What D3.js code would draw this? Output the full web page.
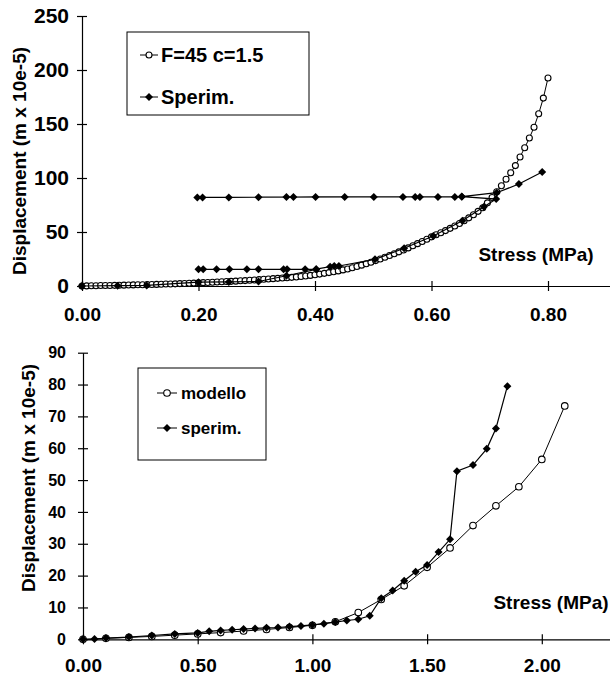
<!DOCTYPE html>
<html>
<head>
<meta charset="utf-8">
<script src="https://cdn.jsdelivr.net/npm/d3@7"></script>
<style>
  body { margin: 0; background: #fff; }
  svg { display: block; font-family: "Liberation Sans", Arial, sans-serif; font-weight: bold; }
</style>
</head>
<body>
<div id="chart"></div>
<script>
// ---- top panel: model curve F=45 c=1.5 ----
const topModelStress = [
  0, 0.008, 0.016, 0.024, 0.032, 0.04, 0.048, 0.056, 0.064, 0.072,
  0.08, 0.088, 0.096, 0.104, 0.112, 0.12, 0.128, 0.136, 0.144, 0.152,
  0.16, 0.168, 0.176, 0.184, 0.192, 0.2, 0.208, 0.216, 0.224, 0.232,
  0.24, 0.248, 0.256, 0.264, 0.272, 0.28, 0.288, 0.296, 0.304, 0.312,
  0.32, 0.328, 0.336, 0.344, 0.352, 0.36, 0.368, 0.376, 0.384, 0.392,
  0.4, 0.408, 0.416, 0.424, 0.432, 0.44, 0.448, 0.456, 0.464, 0.472,
  0.48, 0.488, 0.496, 0.504, 0.512, 0.52, 0.528, 0.536, 0.544, 0.552,
  0.56, 0.568, 0.576, 0.584, 0.592, 0.6, 0.608, 0.616, 0.624, 0.632,
  0.64, 0.648, 0.656, 0.664, 0.672, 0.68, 0.688, 0.696, 0.704, 0.712,
  0.72, 0.728, 0.736, 0.744, 0.752, 0.76, 0.768, 0.776, 0.784, 0.792, 0.8
];
const topModelDisp = [
  0, 0.1, 0.2, 0.3, 0.4, 0.4, 0.5, 0.6, 0.7, 0.8,
  0.9, 1.0, 1.1, 1.2, 1.3, 1.4, 1.5, 1.6, 1.8, 1.9,
  2.0, 2.2, 2.3, 2.5, 2.7, 2.9, 3.1, 3.3, 3.5, 3.7,
  3.9, 4.1, 4.3, 4.5, 4.8, 5.0, 5.3, 5.6, 5.9, 6.2,
  6.5, 6.8, 7.1, 7.4, 7.7, 8.0, 8.4, 8.8, 9.3, 9.8,
  10.4, 11.0, 11.7, 12.4, 13.2, 14.0, 14.9, 15.8, 16.9, 18.0,
  19.3, 20.6, 22.0, 23.5, 25.0, 26.6, 28.2, 29.9, 31.6, 33.4,
  35.3, 37.2, 39.2, 41.2, 43.3, 45.5, 47.4, 49.3, 51.3, 53.4,
  55.6, 57.9, 60.4, 63.1, 66.0, 69.1, 72.5, 77.0, 82.0, 87.2,
  92.8, 98.8, 104.8, 111.5, 119.5, 128.0, 137.0, 147.0, 159.5, 174.0, 192.6
];

// ---- top panel: experimental (loading / unloading cycles) ----
const topSperimStress = [
  0, 0.061, 0.111, 0.200, 0.252, 0.303, 0.351, 0.402,
  0.383, 0.352, 0.346, 0.303, 0.283, 0.253, 0.231, 0.208, 0.200,
  0.402, 0.426, 0.433, 0.441, 0.503, 0.553, 0.603, 0.653, 0.690, 0.711,
  0.652, 0.640, 0.611, 0.580, 0.572, 0.551, 0.501, 0.451, 0.401, 0.363, 0.351, 0.303, 0.252, 0.207, 0.198,
  0.652, 0.712, 0.750, 0.790
];
const topSperimDisp = [
  0, 0.3, 0.5, 3.5, 3.8, 4.2, 9.5, 15.4,
  15.4, 15.4, 15.4, 15.4, 15.4, 15.4, 15.4, 15.4, 15.4,
  15.6, 17.9, 18.5, 18.5, 24.7, 34.9, 46.3, 60.5, 73.4, 80.5,
  82.7, 82.5, 82.5, 82.5, 82.5, 82.5, 82.5, 82.5, 82.5, 82.3, 82.3, 82.2, 82.0, 82.0, 82.0,
  82.8, 86.4, 94.4, 105.6
];

// ---- bottom panel ----
const botModelStress = [0, 0.1, 0.2, 0.3, 0.4, 0.5, 0.6, 0.7, 0.8, 0.9, 1.0,
  1.1, 1.2, 1.3, 1.4, 1.5, 1.6, 1.7, 1.8, 1.9, 2.0, 2.1];
const botModelDisp = [0, 0.3, 0.6, 0.9, 1.3, 1.7, 2.1, 2.6, 3.1, 3.7, 4.4,
  5.5, 8.4, 12.5, 16.8, 22.6, 28.7, 35.7, 41.9, 47.9, 56.5, 73.3];

const botSperimStress = [0, 0.05, 0.1, 0.2, 0.3, 0.4, 0.5, 0.55, 0.6, 0.65, 0.7,
  0.75, 0.8, 0.85, 0.9, 0.95, 1.0, 1.05, 1.1, 1.15, 1.2, 1.25, 1.3, 1.35, 1.4,
  1.45, 1.5, 1.55, 1.6, 1.63, 1.7, 1.76, 1.8, 1.85];
const botSperimDisp = [0, 0.1, 0.4, 0.7, 1.2, 1.7, 2.0, 2.5, 2.8, 3.0, 3.2,
  3.4, 3.6, 3.7, 4.0, 4.2, 4.5, 4.9, 5.4, 5.9, 6.3, 7.4, 12.9, 15.3, 18.4,
  21.2, 23.3, 27.4, 31.4, 52.8, 54.7, 59.8, 66.2, 79.5];

const topXTicks = [0, 0.2, 0.4, 0.6, 0.8];
const topYTicks = [0, 50, 100, 150, 200, 250];
const botXTicks = [0, 0.5, 1.0, 1.5, 2.0];
const botYTicks = [0, 10, 20, 30, 40, 50, 60, 70, 80, 90];

const zip = (xs, ys) => xs.map((x, i) => ({ x: x, y: ys[i] }));

const svg = d3.select('#chart')
  .append('svg')
  .attr('width', 610)
  .attr('height', 677);

const diamond = 'M0,-4L4,0L0,4L-4,0Z';

function drawPanel(cfg) {
  const x = d3.scaleLinear().domain(cfg.xDomain).range(cfg.xRange);
  const y = d3.scaleLinear().domain(cfg.yDomain).range(cfg.yRange);
  const g = svg.append('g');

  // x axis (ticks cross the line)
  const xAxis = g.append('g')
    .attr('transform', `translate(0,${y(0)})`)
    .call(d3.axisBottom(x).tickValues(cfg.xTicks).tickFormat(d3.format('.2f')).tickSizeOuter(0));
  xAxis.select('.domain').attr('stroke', '#000').attr('stroke-width', 1.2);
  xAxis.selectAll('.tick line').attr('y1', -5).attr('y2', 5).attr('stroke-width', 1.2);
  xAxis.selectAll('.tick text')
    .attr('y', cfg.xLabelDy)
    .attr('dy', 0)
    .style('font-size', '19px')
    .style('font-weight', 'bold')
    .attr('font-family', null)
    .attr('fill', '#000');

  // y axis
  const yAxis = g.append('g')
    .attr('transform', `translate(${x(0)},0)`)
    .call(d3.axisLeft(y).tickValues(cfg.yTicks).tickFormat(d3.format('d')).tickSizeOuter(0));
  yAxis.select('.domain').attr('stroke', '#000').attr('stroke-width', 1.2);
  yAxis.selectAll('.tick line').attr('x1', -5).attr('x2', 5).attr('stroke-width', 1.2);
  yAxis.selectAll('.tick text')
    .attr('x', cfg.yLabelDx)
    .style('font-size', cfg.yTickFont)
    .style('font-weight', 'bold')
    .attr('font-family', null)
    .attr('fill', '#000');

  // axis titles
  g.append('text')
    .attr('transform', `translate(${cfg.yTitle[0]},${cfg.yTitle[1]}) rotate(-90)`)
    .attr('text-anchor', 'middle')
    .style('font-size', '19px')
    .text('Displacement (m x 10e-5)');

  g.append('text')
    .attr('x', cfg.xTitle[0])
    .attr('y', cfg.xTitle[1])
    .attr('text-anchor', 'middle')
    .style('font-size', '19px')
    .text('Stress (MPa)');

  const line = d3.line().x(d => x(d.x)).y(d => y(d.y));

  // model series (open circles)
  g.append('path')
    .datum(cfg.model)
    .attr('d', line)
    .attr('fill', 'none')
    .attr('stroke', '#000')
    .attr('stroke-width', 1);

  g.selectAll('.model-pt')
    .data(cfg.model)
    .enter()
    .append('circle')
    .attr('class', 'model-pt')
    .attr('cx', d => x(d.x))
    .attr('cy', d => y(d.y))
    .attr('r', cfg.circleR)
    .attr('fill', '#fff')
    .attr('stroke', '#000')
    .attr('stroke-width', 1.1);

  // experimental series (filled diamonds)
  g.append('path')
    .datum(cfg.sperim)
    .attr('d', line)
    .attr('fill', 'none')
    .attr('stroke', '#000')
    .attr('stroke-width', 1.2);

  g.selectAll('.sperim-pt')
    .data(cfg.sperim)
    .enter()
    .append('path')
    .attr('class', 'sperim-pt')
    .attr('transform', d => `translate(${x(d.x)},${y(d.y)})`)
    .attr('d', diamond)
    .attr('fill', '#000');

  // legend
  const lg = cfg.legend;
  g.append('rect')
    .attr('x', lg.x).attr('y', lg.y)
    .attr('width', lg.w).attr('height', lg.h)
    .attr('fill', '#fff')
    .attr('stroke', '#000')
    .attr('stroke-width', 1);

  lg.rows.forEach((label, i) => {
    const cy = lg.rowY[i];
    g.append('line')
      .attr('x1', lg.lineX[0]).attr('x2', lg.lineX[1])
      .attr('y1', cy).attr('y2', cy)
      .attr('stroke', '#000').attr('stroke-width', 1);
    const mx = (lg.lineX[0] + lg.lineX[1]) / 2;
    if (i === 0) {
      g.append('circle')
        .attr('cx', mx).attr('cy', cy).attr('r', cfg.circleR)
        .attr('fill', '#fff').attr('stroke', '#000').attr('stroke-width', 1.1);
    } else {
      g.append('path')
        .attr('transform', `translate(${mx},${cy})`)
        .attr('d', diamond)
        .attr('fill', '#000');
    }
    g.append('text')
      .attr('x', lg.textX)
      .attr('y', cy)
      .attr('dy', '0.35em')
      .style('font-size', lg.font)
      .text(label);
  });
}

drawPanel({
  xDomain: [0, 1.0], xRange: [82, 664.5],
  yDomain: [0, 250], yRange: [286, 16],
  xTicks: topXTicks, yTicks: topYTicks,
  xLabelDy: 35, yLabelDx: -13, yTickFont: '21px',
  yTitle: [26, 161], xTitle: [536, 261],
  circleR: 3,
  model: zip(topModelStress, topModelDisp),
  sperim: zip(topSperimStress, topSperimDisp),
  legend: {
    x: 127, y: 32, w: 182, h: 83,
    rows: ['F=45 c=1.5', 'Sperim.'], rowY: [55, 97],
    lineX: [140, 158], textX: 161, font: '20px'
  }
});

drawPanel({
  xDomain: [0, 2.5], xRange: [83, 656.5],
  yDomain: [0, 90], yRange: [639.3, 352.7],
  xTicks: botXTicks, yTicks: botYTicks,
  xLabelDy: 33, yLabelDx: -17, yTickFont: '16px',
  yTitle: [35, 478], xTitle: [551, 609],
  circleR: 3.3,
  model: zip(botModelStress, botModelDisp),
  sperim: zip(botSperimStress, botSperimDisp),
  legend: {
    x: 138, y: 368, w: 128, h: 92,
    rows: ['modello', 'sperim.'], rowY: [393, 428],
    lineX: [157, 177], textX: 181, font: '17px'
  }
});
</script>
</body>
</html>
